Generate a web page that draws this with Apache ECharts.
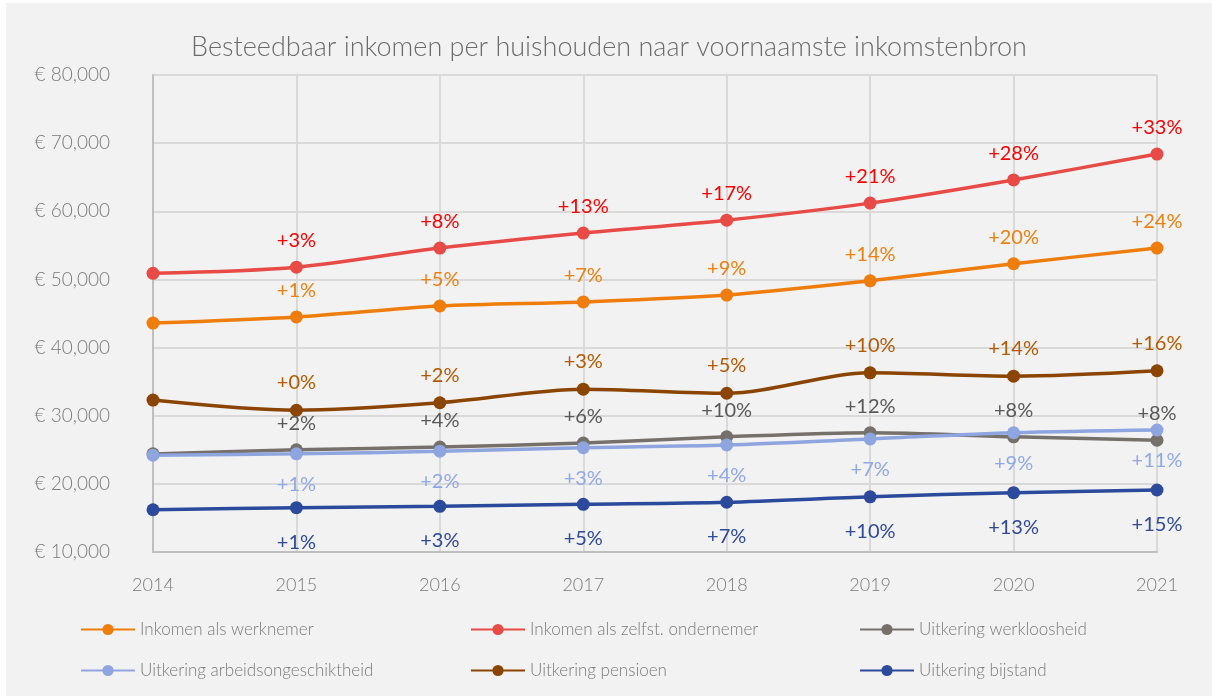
<!DOCTYPE html>
<html><head><meta charset="utf-8">
<script src="https://cdn.jsdelivr.net/npm/echarts/dist/echarts.min.js"></script>
<style>html,body{margin:0;padding:0;background:#fff;width:1212px;height:696px;overflow:hidden}#c{position:absolute;left:6px;top:3px;width:1206px;height:693px;}</style>
</head><body><div id="c"></div>
<script>
const years = ['2014','2015','2016','2017','2018','2019','2020','2021'];
const yTicks = [10000, 80000, 10000]; // min, max, interval

const names = ['Inkomen als werknemer','Inkomen als zelfst. ondernemer','Uitkering werkloosheid','Uitkering arbeidsongeschiktheid','Uitkering pensioen','Uitkering bijstand'];

const werknemer = [43600, 44500, 46100, 46700, 47700, 49800, 52300, 54600];
const zelfstandig = [50900, 51800, 54600, 56800, 58700, 61200, 64600, 68400];
const werkloosheid = [24400, 25000, 25400, 26000, 26900, 27500, 26900, 26400];
const arbeidsong = [24200, 24400, 24800, 25300, 25700, 26600, 27500, 27900];
const pensioen = [32300, 30800, 31900, 33900, 33300, 36300, 35800, 36600];
const bijstand = [16200, 16500, 16700, 17000, 17300, 18100, 18700, 19100];

const lblWerknemer = ['', '+1%', '+5%', '+7%', '+9%', '+14%', '+20%', '+24%'];
const lblZelfstandig = ['', '+3%', '+8%', '+13%', '+17%', '+21%', '+28%', '+33%'];
const lblWerkloosheid = ['', '+2%', '+4%', '+6%', '+10%', '+12%', '+8%', '+8%'];
const lblArbeidsong = ['', '+1%', '+2%', '+3%', '+4%', '+7%', '+9%', '+11%'];
const lblPensioen = ['', '+0%', '+2%', '+3%', '+5%', '+10%', '+14%', '+16%'];
const lblBijstand = ['', '+1%', '+3%', '+5%', '+7%', '+10%', '+13%', '+15%'];

const FONT = 'Lato';
const lineColors = ['#EE7D0C', '#E84A45', '#76706B', '#8EA5E0', '#8B4500', '#2B4A9C'];
const labelColors = ['#EE800F', '#FF0000', '#595959', '#8FA8E6', '#B55A00', '#2E4A9A'];

const seriesDefs = [
  {name: names[0], data: werknemer, labels: lblWerknemer, pos: 'top', dist: 10},
  {name: names[1], data: zelfstandig, labels: lblZelfstandig, pos: 'top', dist: 10},
  {name: names[2], data: werkloosheid, labels: lblWerkloosheid, pos: 'top', dist: 10},
  {name: names[3], data: arbeidsong, labels: lblArbeidsong, pos: 'bottom', dist: 14},
  {name: names[4], data: pensioen, labels: lblPensioen, pos: 'top', dist: 11},
  {name: names[5], data: bijstand, labels: lblBijstand, pos: 'bottom', dist: 18}
];

const series = seriesDefs.map((s, i) => ({
  name: s.name,
  type: 'line',
  data: s.data,
  smooth: 0.3,
  symbol: 'circle',
  symbolSize: 13,
  lineStyle: {width: 3.5, color: lineColors[i]},
  itemStyle: {color: lineColors[i]},
  label: {
    show: true,
    position: s.pos,
    distance: s.dist,
    fontFamily: FONT,
    fontSize: 20,
    color: labelColors[i],
    formatter: p => s.labels[p.dataIndex]
  },
  emphasis: {disabled: true},
  animation: false
}));

const legendPos = [[74, 618], [464, 618], [853, 618], [74, 659], [464, 659], [853, 659]];
const legends = names.map((n, i) => ({
  data: [n],
  left: legendPos[i][0],
  top: legendPos[i][1],
  padding: 0,
  itemWidth: 54,
  itemHeight: 14,
  itemGap: 0,
  textStyle: {fontFamily: FONT, fontSize: 17, color: '#7a7a7a', fontWeight: 300},
  selectedMode: false
}));

const fmt = v => '€ ' + v.toLocaleString('en-US');

const chart = echarts.init(document.getElementById('c'), null, {renderer: 'canvas'});
chart.setOption({
  backgroundColor: '#F2F2F2',
  animation: false,
  color: lineColors,
  title: {
    text: 'Besteedbaar inkomen per huishouden naar voornaamste inkomstenbron',
    left: 'center',
    top: 26,
    textStyle: {fontFamily: FONT, fontSize: 27, fontWeight: 300, color: '#6b6b6b'}
  },
  legend: legends,
  grid: {left: 147, right: 55, top: 72, bottom: 144},
  xAxis: {
    type: 'category',
    data: years,
    boundaryGap: false,
    axisLine: {lineStyle: {color: '#BFBFBF', width: 2}},
    axisTick: {show: false},
    axisLabel: {fontFamily: FONT, fontSize: 18, color: '#7a7a7a', margin: 24, fontWeight: 300},
    splitLine: {show: true, lineStyle: {color: '#D9D9D9', width: 2}}
  },
  yAxis: {
    type: 'value',
    min: yTicks[0],
    max: yTicks[1],
    interval: yTicks[2],
    axisLine: {show: true, lineStyle: {color: '#BFBFBF', width: 2}},
    axisTick: {show: false},
    axisLabel: {fontFamily: FONT, fontSize: 19, color: '#7a7a7a', margin: 43, formatter: fmt, fontWeight: 300},
    splitLine: {show: true, lineStyle: {color: '#D9D9D9', width: 2}}
  },
  series: series
});
</script>
</body></html>
